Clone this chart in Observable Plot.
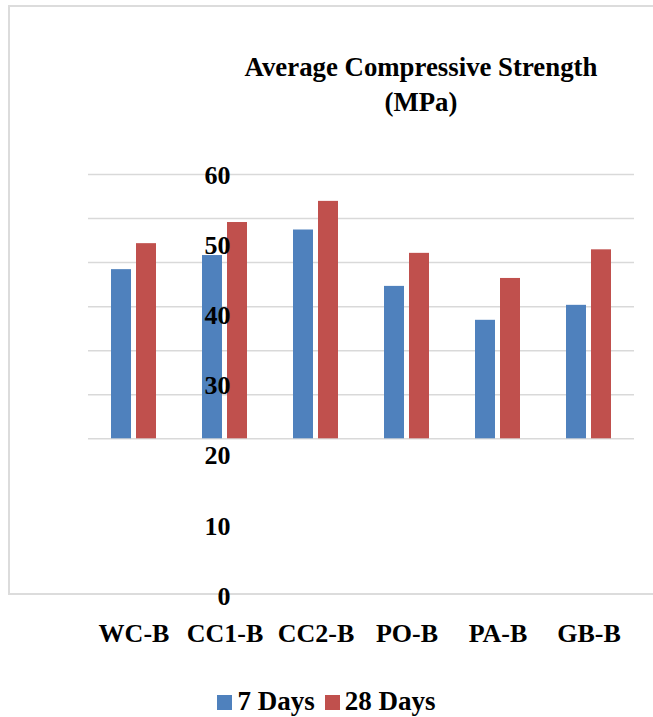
<!DOCTYPE html>
<html>
<head>
<meta charset="utf-8">
<script src="https://cdn.jsdelivr.net/npm/d3@7"></script>
<script src="https://cdn.jsdelivr.net/npm/@observablehq/plot@0.6"></script>
<style>
  html, body { margin: 0; padding: 0; background: #fff; overflow: hidden; }
  #root { position: relative; width: 653px; height: 717px; overflow: hidden;
          font-family: "Liberation Serif", "Times New Roman", serif; font-weight: bold; color: #000; }
  #frame { position: absolute; left: 8px; top: 5px; width: 700px; height: 586px;
           border-left: 2px solid #dcdcdc; border-top: 2px solid #dcdcdc; border-bottom: 2px solid #dcdcdc; }
  .layer { position: absolute; left: 0; top: 0; pointer-events: none; }
  #title { position: absolute; left: 121px; top: 50px; width: 600px; text-align: center;
           font-size: 26.8px; line-height: 34.5px; }
  #legend { position: absolute; left: 0; top: 686px; width: 653px; text-align: center;
            font-size: 27px; line-height: 30px; white-space: nowrap; }
  .sw { display: inline-block; width: 15px; height: 15px; margin-right: 5px; }
  .item { margin: 0 5px; }
</style>
</head>
<body>
<div id="root">
  <div id="frame"></div>
  <div id="main" class="layer"></div>
  <div id="yaxis" class="layer"></div>
  <div id="title">Average Compressive Strength<br>(MPa)</div>
  <div id="legend"></div>
</div>
<script>
const categories = ["WC-B", "CC1-B", "CC2-B", "PO-B", "PA-B", "GB-B"];
const series = ["7 Days", "28 Days"];
const days7 = [38.4, 41.6, 47.4, 34.6, 26.9, 30.3];
const days28 = [44.3, 49.1, 53.9, 42.1, 36.4, 42.9];
const yTicks = [0, 10, 20, 30, 40, 50, 60];
const colors = ["#4F81BD", "#C0504D"];

const data = categories.flatMap((c, i) => [
  {category: c, series: series[0], value: days7[i]},
  {category: c, series: series[1], value: days28[i]}
]);

const font = {
  fontFamily: "'Liberation Serif', 'Times New Roman', serif",
  fontSize: "26px",
  fontWeight: "bold",
  background: "transparent",
  overflow: "visible",
  color: "#000"
};

const main = Plot.plot({
  width: 653,
  height: 717,
  marginTop: 174,
  marginBottom: 278.7,
  marginLeft: 86,
  marginRight: 18,
  style: font,
  fx: {domain: categories, padding: 0, label: null},
  x: {domain: series, paddingInner: 0.2, paddingOuter: 0.88, axis: null},
  y: {domain: [0, 60], axis: null},
  color: {domain: series, range: colors},
  marks: [
    Plot.gridY(yTicks, {stroke: "#d9d9d9", strokeOpacity: 1, strokeWidth: 1.5}),
    Plot.barY(data, {fx: "category", x: "series", y: "value", fill: "series"}),
    Plot.axisFx({anchor: "bottom", tickSize: 0, tickPadding: 185, label: null})
  ]
});
document.getElementById("main").appendChild(main);

const yaxis = Plot.plot({
  width: 653,
  height: 717,
  marginTop: 175,
  marginBottom: 121,
  marginLeft: 230,
  marginRight: 0,
  style: font,
  y: {domain: [0, 60]},
  marks: [
    Plot.axisY(yTicks, {anchor: "left", tickSize: 0, tickPadding: 0, label: null})
  ]
});
document.getElementById("yaxis").appendChild(yaxis);

const legend = document.getElementById("legend");
series.forEach((s, i) => {
  const item = document.createElement("span");
  item.className = "item";
  const sw = document.createElement("span");
  sw.className = "sw";
  sw.style.background = colors[i];
  item.appendChild(sw);
  item.appendChild(document.createTextNode(s));
  legend.appendChild(item);
});
</script>
</body>
</html>
